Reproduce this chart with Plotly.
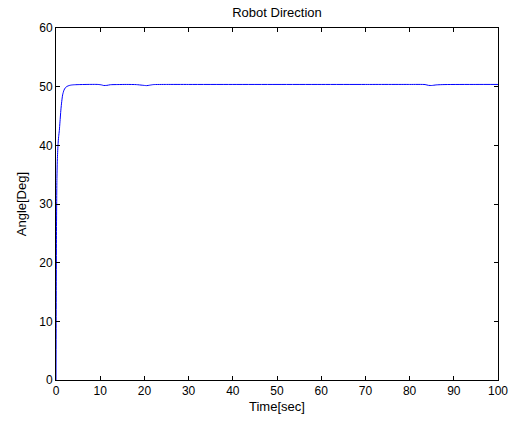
import plotly.graph_objects as go

time_sec = [0, 0.03, 0.06, 0.1, 0.15, 0.2, 0.3, 0.45, 0.6, 0.75, 0.9, 1.1, 1.3, 1.5, 1.8, 2.1, 2.5, 3.0, 3.5, 4.0, 5.0, 7.0, 9.5,
            10.3, 10.8, 11.5, 12.3, 14, 16, 18.2, 19.5, 20.5, 21.2, 22, 25, 30, 40, 50, 60, 70, 80, 83.5, 84.3, 85.0, 86.0, 88, 95, 100]
angle_deg = [0, 8, 16, 24, 30, 34, 37.5, 40, 41.5, 42.5, 44, 46, 47.5, 48.6, 49.4, 49.8, 50.05, 50.2, 50.28, 50.32, 50.35, 50.38, 50.38,
             50.3, 50.2, 50.22, 50.33, 50.36, 50.38, 50.35, 50.25, 50.18, 50.25, 50.35, 50.38, 50.38, 50.38, 50.38, 50.38, 50.38, 50.38, 50.36, 50.22, 50.2, 50.3, 50.36, 50.38, 50.38]

x_ticks = [0, 10, 20, 30, 40, 50, 60, 70, 80, 90, 100]
y_ticks = [0, 10, 20, 30, 40, 50, 60]

FONT = "Liberation Sans, Arial"

fig = go.Figure()
fig.add_trace(go.Scatter(x=time_sec, y=angle_deg, mode="lines",
                         line=dict(color="#0000ff", width=1, shape="spline", smoothing=0.6),
                         showlegend=False, hoverinfo="skip"))

axis_common = dict(showgrid=False, zeroline=False, showline=True, linecolor="black", linewidth=1,
                   mirror="ticks", ticks="inside", ticklen=4, tickcolor="black", tickwidth=1,
                   tickfont=dict(family=FONT, size=12, color="black"))

fig.update_layout(
    width=520, height=421,
    margin=dict(l=56, r=19, t=28, b=41),
    paper_bgcolor="white", plot_bgcolor="white",
    title=dict(text="Robot Direction", x=277 / 520, xanchor="center", y=1 - 12 / 421, yanchor="middle",
               font=dict(family=FONT, size=13, color="black")),
    xaxis=dict(range=[0, 100], tickvals=x_ticks, ticktext=[str(v) for v in x_ticks], **axis_common),
    yaxis=dict(range=[0, 60], tickvals=y_ticks, ticktext=[str(v) for v in y_ticks], **axis_common),
    annotations=[
        dict(text="Time[sec]", xref="paper", yref="paper", x=0.5, y=-(406 - 380) / 352,
             xanchor="center", yanchor="middle", showarrow=False,
             font=dict(family=FONT, size=13, color="black")),
        dict(text="Angle[Deg]", xref="paper", yref="paper", x=(21 - 56) / 445, y=0.5,
             xanchor="center", yanchor="middle", showarrow=False, textangle=-90,
             font=dict(family=FONT, size=13, color="black")),
    ],
)

fig.write_html("out.html")
